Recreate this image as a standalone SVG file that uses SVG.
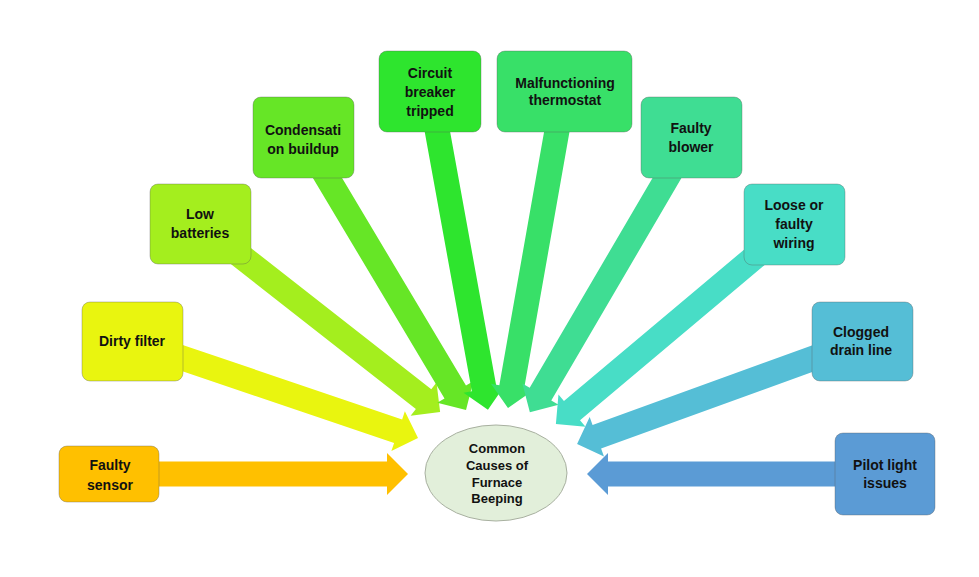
<svg xmlns="http://www.w3.org/2000/svg" width="979" height="577" viewBox="0 0 979 577">
<style>
.box{stroke-width:1;stroke-opacity:0.35;stroke:#555}
.t{font-family:"Liberation Sans",Arial,sans-serif;font-weight:bold;font-size:14px;fill:#111;text-anchor:middle}
.c{font-family:"Liberation Sans",Arial,sans-serif;font-weight:bold;font-size:13px;fill:#111;text-anchor:middle}
</style>
<rect width="979" height="577" fill="#ffffff"/>
<g id="connectors">
<polygon fill="#FFC000" transform="translate(110,474) rotate(0)" points="0,-12.5 277,-12.5 277,-21 298,0 277,21 277,12.5 0,12.5"/>
<polygon fill="#E9F50F" transform="translate(132,341) rotate(18.73)" points="0,-12.5 281,-12.5 281,-21 302,0 281,21 281,12.5 0,12.5"/>
<polygon fill="#A4EE1E" transform="translate(200,224) rotate(38.07)" points="0,-12.5 284,-12.5 284,-21 305,0 284,21 284,12.5 0,12.5"/>
<polygon fill="#66E626" transform="translate(303,137) rotate(59.16)" points="0,-12.5 297,-12.5 297,-21 318,0 297,21 297,12.5 0,12.5"/>
<polygon fill="#2EE52E" transform="translate(430,91) rotate(79.70)" points="0,-12.5 303,-12.5 303,-21 324,0 303,21 303,12.5 0,12.5"/>
<polygon fill="#38E068" transform="translate(564,91) rotate(100.02)" points="0,-12.5 301,-12.5 301,-21 322,0 301,21 301,12.5 0,12.5"/>
<polygon fill="#3FDD93" transform="translate(691,137) rotate(120.34)" points="0,-12.5 298,-12.5 298,-21 319,0 298,21 298,12.5 0,12.5"/>
<polygon fill="#48DDC6" transform="translate(794,224) rotate(139.96)" points="0,-12.5 290,-12.5 290,-21 311,0 290,21 290,12.5 0,12.5"/>
<polygon fill="#55BED6" transform="translate(861,341) rotate(160.07)" points="0,-12.5 281,-12.5 281,-21 302,0 281,21 281,12.5 0,12.5"/>
<polygon fill="#5B9BD5" transform="translate(885,474) rotate(180)" points="0,-12.5 277,-12.5 277,-21 298,0 277,21 277,12.5 0,12.5"/>
</g>
<g id="center">
<ellipse cx="496" cy="473" rx="71" ry="48" fill="#E2EFDA" stroke="#A8B0A0" stroke-width="1"/>
<text class="c" x="497" y="453">Common</text>
<text class="c" x="497" y="470">Causes of</text>
<text class="c" x="497" y="487">Furnace</text>
<text class="c" x="497" y="503">Beeping</text>
</g>
<g id="faulty-sensor">
<rect class="box" x="59" y="446" width="100" height="56" rx="8" fill="#FFC000"/>
<text class="t" x="110" y="470">Faulty</text>
<text class="t" x="110" y="490">sensor</text>
</g>
<g id="dirty-filter">
<rect class="box" x="82" y="302" width="101" height="79" rx="8" fill="#E9F50F"/>
<text class="t" x="132" y="346">Dirty filter</text>
</g>
<g id="low-batteries">
<rect class="box" x="150" y="184" width="101" height="80" rx="8" fill="#A4EE1E"/>
<text class="t" x="200" y="219">Low</text>
<text class="t" x="200" y="238">batteries</text>
</g>
<g id="condensation">
<rect class="box" x="253" y="97" width="101" height="81" rx="8" fill="#66E626"/>
<text class="t" x="303" y="135">Condensati</text>
<text class="t" x="303" y="154">on buildup</text>
</g>
<g id="circuit-breaker">
<rect class="box" x="379" y="51" width="102" height="81" rx="8" fill="#2EE52E"/>
<text class="t" x="430" y="78">Circuit</text>
<text class="t" x="430" y="97">breaker</text>
<text class="t" x="430" y="116">tripped</text>
</g>
<g id="thermostat">
<rect class="box" x="497" y="51" width="135" height="81" rx="8" fill="#38E068"/>
<text class="t" x="565" y="88">Malfunctioning</text>
<text class="t" x="565" y="105">thermostat</text>
</g>
<g id="faulty-blower">
<rect class="box" x="641" y="97" width="101" height="81" rx="8" fill="#3FDD93"/>
<text class="t" x="691" y="133">Faulty</text>
<text class="t" x="691" y="152">blower</text>
</g>
<g id="loose-wiring">
<rect class="box" x="744" y="184" width="101" height="81" rx="8" fill="#48DDC6"/>
<text class="t" x="794" y="210">Loose or</text>
<text class="t" x="794" y="229">faulty</text>
<text class="t" x="794" y="248">wiring</text>
</g>
<g id="clogged-drain">
<rect class="box" x="812" y="302" width="101" height="79" rx="8" fill="#55BED6"/>
<text class="t" x="861" y="337">Clogged</text>
<text class="t" x="861" y="355">drain line</text>
</g>
<g id="pilot-light">
<rect class="box" x="835" y="433" width="100" height="82" rx="8" fill="#5B9BD5"/>
<text class="t" x="885" y="470">Pilot light</text>
<text class="t" x="885" y="488">issues</text>
</g>
</svg>
